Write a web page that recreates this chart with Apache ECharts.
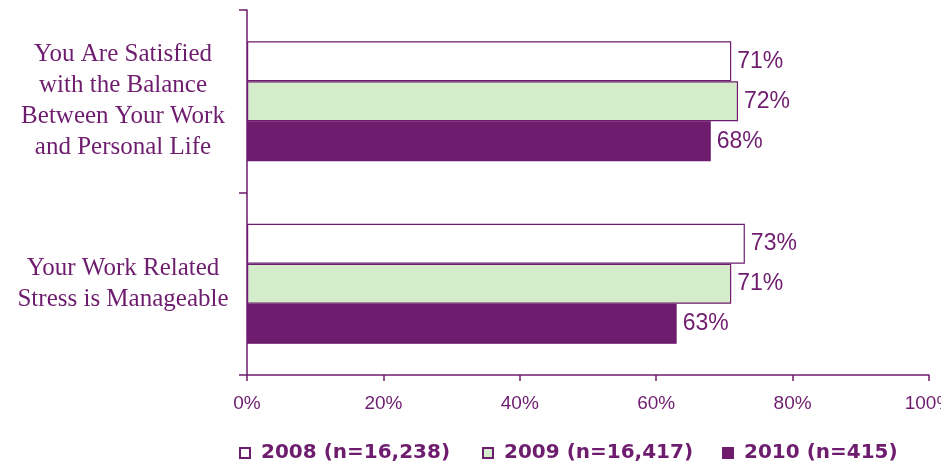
<!DOCTYPE html>
<html>
<head>
<meta charset="utf-8">
<script src="https://cdn.jsdelivr.net/npm/echarts@6/dist/echarts.min.js"></script>
<style>
  html, body { margin: 0; padding: 0; background: #ffffff; }
  #chart { width: 941px; height: 463px; }
</style>
</head>
<body>
<div id="chart"></div>
<script>
// Survey statements (top to bottom)
const categories = [
  'You Are Satisfied\nwith the Balance\nBetween Your Work\nand Personal Life',
  'Your Work Related\nStress is Manageable'
];
// Share of respondents agreeing, by survey year (%)
const seriesNames = ['2008 (n=16,238)', '2009 (n=16,417)', '2010 (n=415)'];
const values2008 = [71, 73];
const values2009 = [72, 71];
const values2010 = [68, 63];
const xTicks = [0, 20, 40, 60, 80, 100];

const PURPLE = '#6e1c6e';
const GREEN = '#d4ecc9';

const chart = echarts.init(document.getElementById('chart'));

const barLabel = {
  show: true,
  position: 'right',
  distance: 6,
  formatter: p => p.value + '%',
  color: PURPLE,
  fontFamily: 'Liberation Sans, Arial, sans-serif',
  fontSize: 23
};

function legendAt(left, name) {
  return {
    data: [name],
    left: left,
    top: 443,
    icon: 'rect',
    itemWidth: 10,
    itemHeight: 10,
    itemGap: 0,
    padding: 0,
    selectedMode: false,
    textStyle: {
      color: PURPLE,
      fontFamily: 'DejaVu Sans, sans-serif',
      fontWeight: 'bold',
      fontSize: 20,
      padding: [0, 0, 0, 6]
    }
  };
}

chart.setOption({
  animation: false,
  backgroundColor: '#ffffff',
  grid: {
    left: 247, right: 12, top: 10, bottom: 88,
    containLabel: false,
    outerBoundsMode: 'none'
  },
  legend: [
    legendAt(239, seriesNames[0]),
    legendAt(482, seriesNames[1]),
    legendAt(722, seriesNames[2])
  ],
  xAxis: {
    type: 'value',
    min: 0,
    max: 100,
    interval: 20,
    axisLine: { show: true, lineStyle: { color: PURPLE, width: 1.5 } },
    axisTick: { show: true, length: 6, lineStyle: { color: PURPLE, width: 1.5 } },
    splitLine: { show: false },
    axisLabel: {
      formatter: v => (xTicks.includes(v) ? v + '%' : ''),
      color: PURPLE,
      fontFamily: 'Liberation Sans, Arial, sans-serif',
      fontSize: 19,
      margin: 19
    }
  },
  yAxis: {
    type: 'category',
    data: categories,
    inverse: true,
    axisLine: { show: true, lineStyle: { color: PURPLE, width: 1.5 } },
    axisTick: { show: true, length: 8, lineStyle: { color: PURPLE, width: 1.5 } },
    axisLabel: {
      color: PURPLE,
      fontFamily: 'Liberation Serif, Palatino, serif',
      fontSize: 25,
      lineHeight: 31,
      align: 'center',
      margin: 124
    }
  },
  series: [
    {
      name: seriesNames[0], type: 'bar', data: values2008,
      barWidth: 40, barGap: '0%',
      itemStyle: { color: '#ffffff', borderColor: PURPLE, borderWidth: 1.2 },
      label: barLabel
    },
    {
      name: seriesNames[1], type: 'bar', data: values2009,
      barWidth: 40, barGap: '0%',
      itemStyle: { color: GREEN, borderColor: PURPLE, borderWidth: 1.2 },
      label: barLabel
    },
    {
      name: seriesNames[2], type: 'bar', data: values2010,
      barWidth: 40, barGap: '0%',
      itemStyle: { color: PURPLE, borderColor: PURPLE, borderWidth: 1.2 },
      label: barLabel
    }
  ]
});
</script>
</body>
</html>
